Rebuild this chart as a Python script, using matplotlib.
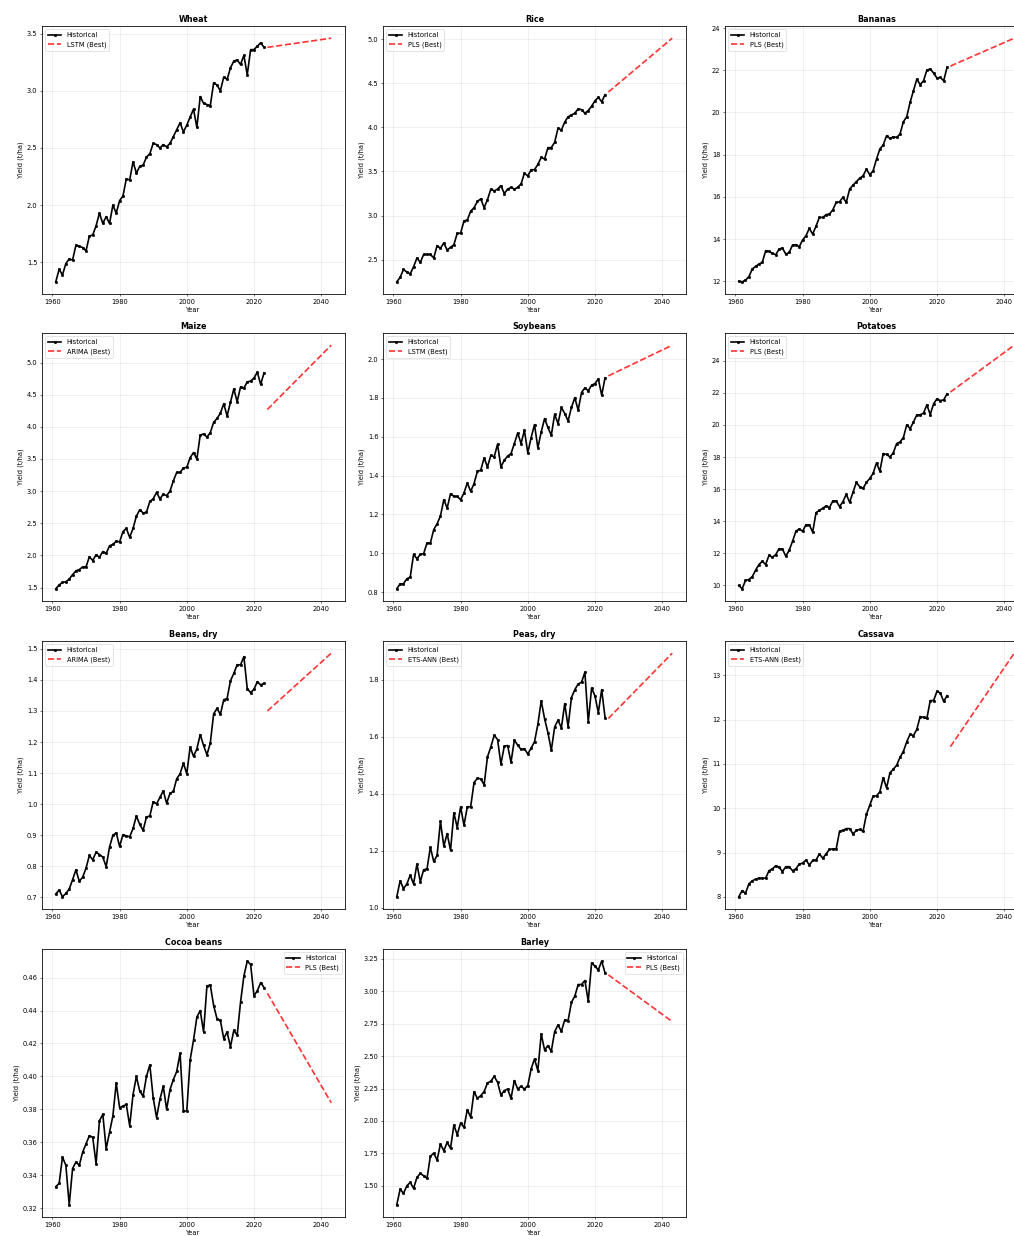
import matplotlib
matplotlib.use("Agg")
import matplotlib.pyplot as plt

# ---------------- data ----------------
hist_years = list(range(1961, 2024))
fc_years = [2024, 2043]

crops = ["Wheat", "Rice", "Bananas", "Maize", "Soybeans", "Potatoes",
         "Beans, dry", "Peas, dry", "Cassava", "Cocoa beans", "Barley"]
best_models = ["LSTM", "PLS", "PLS", "ARIMA", "LSTM", "PLS",
               "ARIMA", "ETS-ANN", "ETS-ANN", "PLS", "PLS"]

wheat = [1.33, 1.44, 1.39, 1.49, 1.53, 1.52, 1.65, 1.64, 1.63, 1.60,
         1.73, 1.74, 1.82, 1.93, 1.84, 1.90, 1.84, 2.00, 1.93, 2.04,
         2.08, 2.23, 2.22, 2.38, 2.28, 2.34, 2.35, 2.42, 2.45, 2.54,
         2.53, 2.50, 2.53, 2.51, 2.54, 2.60, 2.66, 2.72, 2.64, 2.70,
         2.77, 2.84, 2.68, 2.95, 2.89, 2.88, 2.87, 3.07, 3.05, 3.00,
         3.12, 3.10, 3.20, 3.26, 3.27, 3.23, 3.31, 3.14, 3.36, 3.36,
         3.39, 3.42, 3.38]
wheat_fc = [3.38, 3.46]

rice = [2.25, 2.30, 2.39, 2.36, 2.34, 2.42, 2.52, 2.47, 2.56, 2.56,
        2.56, 2.52, 2.66, 2.63, 2.69, 2.61, 2.64, 2.67, 2.80, 2.80,
        2.94, 2.95, 3.05, 3.09, 3.16, 3.19, 3.09, 3.18, 3.30, 3.28,
        3.30, 3.34, 3.25, 3.30, 3.32, 3.30, 3.32, 3.36, 3.48, 3.45,
        3.52, 3.52, 3.58, 3.66, 3.64, 3.77, 3.77, 3.83, 3.99, 3.97,
        4.06, 4.12, 4.14, 4.16, 4.21, 4.20, 4.16, 4.19, 4.24, 4.30,
        4.34, 4.29, 4.37]
rice_fc = [4.40, 5.01]

bananas = [12.00, 11.98, 12.06, 12.22, 12.58, 12.71, 12.82, 12.90, 13.45, 13.42,
           13.33, 13.26, 13.53, 13.58, 13.29, 13.37, 13.72, 13.74, 13.64, 13.96,
           14.16, 14.51, 14.24, 14.62, 15.03, 15.03, 15.16, 15.19, 15.39, 15.74,
           15.77, 15.98, 15.74, 16.37, 16.56, 16.72, 16.89, 17.00, 17.32, 17.05,
           17.24, 17.79, 18.27, 18.46, 18.90, 18.77, 18.85, 18.82, 18.98, 19.56,
           19.80, 20.48, 21.03, 21.58, 21.32, 21.50, 22.01, 22.06, 21.87, 21.63,
           21.66, 21.50, 22.14]
bananas_fc = [22.20, 23.52]

maize = [1.48, 1.54, 1.58, 1.59, 1.63, 1.70, 1.76, 1.78, 1.82, 1.82,
         1.98, 1.92, 2.01, 1.97, 2.06, 2.03, 2.15, 2.17, 2.22, 2.21,
         2.37, 2.42, 2.28, 2.42, 2.61, 2.71, 2.66, 2.67, 2.84, 2.88,
         2.98, 2.88, 2.95, 2.93, 3.00, 3.16, 3.29, 3.29, 3.36, 3.37,
         3.52, 3.60, 3.50, 3.87, 3.89, 3.84, 3.91, 4.07, 4.13, 4.21,
         4.36, 4.17, 4.38, 4.59, 4.39, 4.62, 4.60, 4.70, 4.71, 4.76,
         4.85, 4.66, 4.84]
maize_fc = [4.27, 5.27]

soybeans = [0.817, 0.843, 0.843, 0.869, 0.877, 0.994, 0.972, 0.994, 0.998, 1.053,
            1.053, 1.122, 1.152, 1.192, 1.276, 1.233, 1.307, 1.293, 1.293, 1.276,
            1.311, 1.362, 1.319, 1.359, 1.422, 1.428, 1.491, 1.445, 1.505, 1.496,
            1.562, 1.445, 1.479, 1.501, 1.513, 1.565, 1.620, 1.565, 1.634, 1.517,
            1.596, 1.663, 1.543, 1.625, 1.694, 1.648, 1.608, 1.716, 1.668, 1.751,
            1.720, 1.682, 1.751, 1.802, 1.737, 1.828, 1.852, 1.837, 1.866, 1.874,
            1.899, 1.814, 1.904]
soybeans_fc = [1.914, 2.072]

potatoes = [10.00, 9.79, 10.31, 10.37, 10.54, 10.95, 11.30, 11.51, 11.30, 11.88,
            11.76, 11.92, 12.29, 12.27, 11.82, 12.19, 12.75, 13.37, 13.53, 13.37,
            13.78, 13.78, 13.32, 14.54, 14.67, 14.81, 14.96, 14.85, 15.27, 15.27,
            14.91, 15.22, 15.68, 15.18, 15.80, 16.42, 16.15, 16.05, 16.42, 16.67,
            16.98, 17.64, 17.12, 18.22, 18.16, 18.01, 18.26, 18.84, 18.94, 19.21,
            20.01, 19.77, 20.18, 20.63, 20.63, 20.74, 21.25, 20.65, 21.32, 21.63,
            21.52, 21.56, 21.94]
potatoes_fc = [22.05, 24.97]

beans = [0.711, 0.724, 0.702, 0.713, 0.727, 0.757, 0.789, 0.752, 0.765, 0.794,
         0.835, 0.821, 0.846, 0.838, 0.830, 0.799, 0.862, 0.900, 0.908, 0.864,
         0.902, 0.898, 0.895, 0.922, 0.962, 0.935, 0.916, 0.959, 0.962, 1.008,
         1.001, 1.022, 1.043, 1.003, 1.035, 1.041, 1.082, 1.098, 1.132, 1.098,
         1.184, 1.154, 1.178, 1.224, 1.189, 1.159, 1.197, 1.291, 1.308, 1.289,
         1.336, 1.340, 1.397, 1.421, 1.449, 1.448, 1.475, 1.372, 1.359, 1.370,
         1.394, 1.384, 1.389]
beans_fc = [1.300, 1.486]

peas = [1.038, 1.094, 1.067, 1.083, 1.114, 1.083, 1.153, 1.091, 1.133, 1.136,
        1.212, 1.162, 1.183, 1.303, 1.216, 1.260, 1.201, 1.333, 1.281, 1.354,
        1.289, 1.354, 1.354, 1.439, 1.454, 1.452, 1.431, 1.529, 1.564, 1.605,
        1.590, 1.504, 1.566, 1.569, 1.510, 1.588, 1.570, 1.555, 1.558, 1.539,
        1.560, 1.582, 1.643, 1.726, 1.663, 1.614, 1.552, 1.634, 1.658, 1.631,
        1.716, 1.635, 1.737, 1.765, 1.785, 1.791, 1.826, 1.651, 1.771, 1.743,
        1.684, 1.765, 1.667]
peas_fc = [1.664, 1.893]

cassava = [8.00, 8.14, 8.08, 8.29, 8.36, 8.40, 8.42, 8.42, 8.42, 8.59,
           8.63, 8.70, 8.67, 8.57, 8.68, 8.68, 8.59, 8.63, 8.74, 8.76,
           8.83, 8.72, 8.82, 8.83, 8.97, 8.87, 8.97, 9.07, 9.08, 9.08,
           9.48, 9.50, 9.54, 9.54, 9.42, 9.50, 9.52, 9.48, 9.86, 10.07,
           10.27, 10.28, 10.37, 10.69, 10.46, 10.80, 10.88, 10.97, 11.15, 11.28,
           11.50, 11.67, 11.64, 11.78, 12.07, 12.05, 12.03, 12.43, 12.43, 12.64,
           12.60, 12.41, 12.54]
cassava_fc = [11.39, 13.50]

cocoa = [0.333, 0.335, 0.351, 0.346, 0.322, 0.344, 0.348, 0.346, 0.354, 0.359,
         0.364, 0.363, 0.347, 0.373, 0.377, 0.356, 0.366, 0.376, 0.396, 0.381,
         0.382, 0.383, 0.370, 0.389, 0.400, 0.391, 0.388, 0.400, 0.407, 0.387,
         0.375, 0.386, 0.394, 0.380, 0.392, 0.398, 0.403, 0.414, 0.379, 0.379,
         0.410, 0.422, 0.436, 0.440, 0.427, 0.455, 0.4555, 0.443, 0.435, 0.434,
         0.423, 0.427, 0.418, 0.428, 0.425, 0.445, 0.461, 0.470, 0.468, 0.449,
         0.452, 0.457, 0.454]
cocoa_fc = [0.4505, 0.384]

barley = [1.353, 1.474, 1.441, 1.500, 1.526, 1.480, 1.564, 1.595, 1.577, 1.557,
          1.727, 1.752, 1.698, 1.822, 1.770, 1.835, 1.788, 1.968, 1.894, 1.984,
          1.950, 2.087, 2.028, 2.226, 2.174, 2.195, 2.226, 2.293, 2.306, 2.344,
          2.298, 2.200, 2.234, 2.246, 2.174, 2.311, 2.246, 2.267, 2.246, 2.272,
          2.401, 2.478, 2.388, 2.671, 2.547, 2.581, 2.537, 2.689, 2.740, 2.692,
          2.779, 2.774, 2.915, 2.962, 3.052, 3.052, 3.083, 2.923, 3.219, 3.193,
          3.165, 3.232, 3.142]
barley_fc = [3.126, 2.766]

historical = [wheat, rice, bananas, maize, soybeans, potatoes,
              beans, peas, cassava, cocoa, barley]
forecasts = [wheat_fc, rice_fc, bananas_fc, maize_fc, soybeans_fc, potatoes_fc,
             beans_fc, peas_fc, cassava_fc, cocoa_fc, barley_fc]

# ---------------- layout ----------------
W, H = 1014, 1236
DPI = 48
fig = plt.figure(figsize=(W / DPI, H / DPI), dpi=DPI)

col_left = [42, 383, 725]
row_top = [26, 333, 641, 949]
ax_w, ax_h = 303, 268

for i, crop in enumerate(crops):
    r, c = divmod(i, 3)
    left = col_left[c] / W
    bottom = 1 - (row_top[r] + ax_h) / H
    ax = fig.add_axes([left, bottom, ax_w / W, ax_h / H])
    ax.plot(hist_years, historical[i], color="black", marker="o",
            markersize=3.5, linewidth=2.5, label="Historical")
    ax.plot(fc_years, forecasts[i], color="red", linestyle="--",
            linewidth=2.5, alpha=0.8, label=f"{best_models[i]} (Best)")
    ax.set_title(crop, fontsize=12, fontweight="bold")
    ax.set_xlabel("Year", fontsize=10)
    ax.set_ylabel("Yield (t/ha)", fontsize=10)
    ax.grid(True, alpha=0.35)
    ax.tick_params(labelsize=10)
    for sp in ax.spines.values():
        sp.set_linewidth(1.2)
    loc = "upper right" if crop in ("Cocoa beans", "Barley") else "upper left"
    ax.legend(loc=loc, fontsize=10)

fig.savefig("out.png", dpi=DPI)
